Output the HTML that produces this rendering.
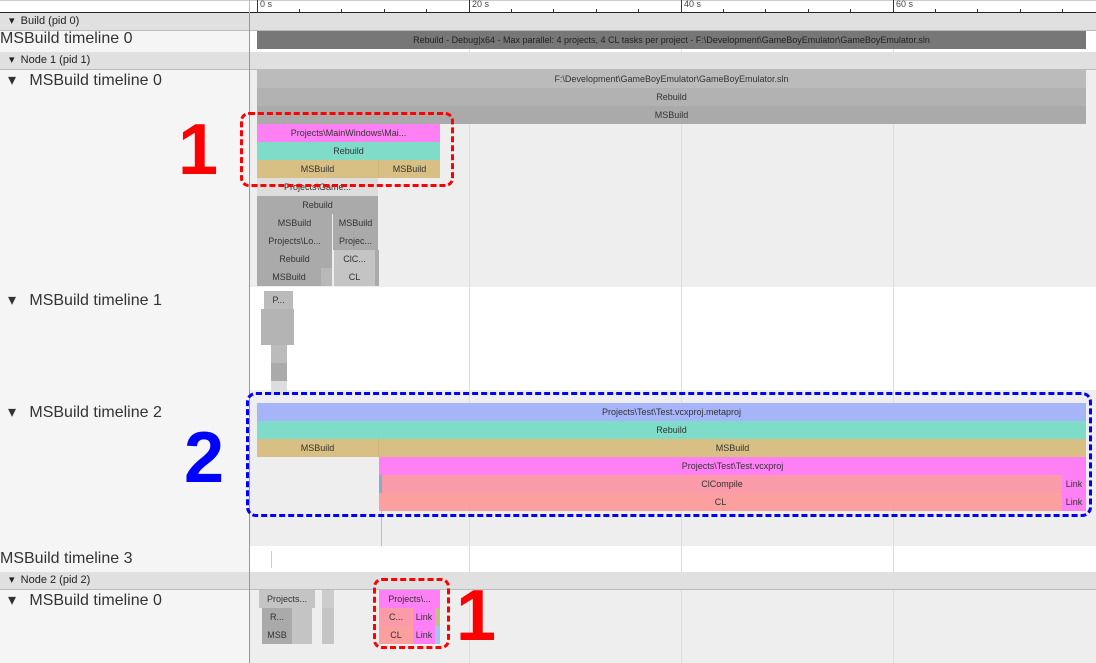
<!DOCTYPE html>
<html><head><meta charset="utf-8"><style>
body{margin:0;width:1096px;height:663px;overflow:hidden;background:#fff;font-family:"Liberation Sans",Arial,sans-serif;position:relative}
div{position:absolute;box-sizing:border-box}
.b{height:18px;line-height:18px;font-size:9px;text-align:center;color:#333;overflow:hidden;white-space:nowrap}
.hd{left:0;width:1096px;height:18px;background:#e0e0e0;border-bottom:1px solid #bbb;font-size:11px;line-height:17px;color:#222}
.lbl{font-size:16px;color:#333;white-space:nowrap}
.tk{top:9px;width:1px;height:4px;background:#333}
.num{font-size:72px;line-height:80px;font-weight:bold}
</style></head><body>
<div style="left:0;top:0;width:1096px;height:13px;background:#fff;border-bottom:1px solid #222;border-top:1px solid #ccc"></div>
<div style="left:0;top:0;width:250px;height:13px;border-right:1px solid #bbb"></div>
<div style="left:257px;top:0;width:1px;height:13px;background:#333"></div><div style="left:260px;top:-1px;font-size:9px;color:#444">0 s</div>
<div style="left:469px;top:0;width:1px;height:13px;background:#333"></div><div style="left:472px;top:-1px;font-size:9px;color:#444">20 s</div>
<div style="left:681px;top:0;width:1px;height:13px;background:#333"></div><div style="left:684px;top:-1px;font-size:9px;color:#444">40 s</div>
<div style="left:893px;top:0;width:1px;height:13px;background:#333"></div><div style="left:896px;top:-1px;font-size:9px;color:#444">60 s</div>
<div class="tk" style="left:299px"></div><div class="tk" style="left:341px"></div><div class="tk" style="left:384px"></div><div class="tk" style="left:426px"></div>
<div class="tk" style="left:511px"></div><div class="tk" style="left:553px"></div><div class="tk" style="left:596px"></div><div class="tk" style="left:638px"></div>
<div class="tk" style="left:723px"></div><div class="tk" style="left:765px"></div><div class="tk" style="left:808px"></div><div class="tk" style="left:850px"></div>
<div class="tk" style="left:935px"></div><div class="tk" style="left:977px"></div><div class="tk" style="left:1020px"></div><div class="tk" style="left:1062px"></div>

<div style="left:0;top:14px;width:250px;height:649px;background:#f5f5f5;border-right:1px solid #999"></div>

<div style="left:250px;top:70px;width:846px;height:217px;background:#eee"></div>
<div style="left:250px;top:390px;width:846px;height:156px;background:#eee"></div>
<div style="left:250px;top:590px;width:846px;height:73px;background:#eee"></div>
<div style="left:469px;top:14px;width:1px;height:649px;background:#ddd"></div>
<div style="left:681px;top:14px;width:1px;height:649px;background:#ddd"></div>
<div style="left:893px;top:14px;width:1px;height:649px;background:#ddd"></div>

<div class="hd" style="top:13px;padding-left:9px">▾ &nbsp;Build (pid 0)</div>
<div class="hd" style="top:52px;padding-left:9px">▾ &nbsp;Node 1 (pid 1)</div>
<div class="hd" style="top:572px;padding-left:9px">▾ &nbsp;Node 2 (pid 2)</div>
<div style="left:249px;top:13px;width:1px;height:650px;background:#999"></div>

<div class="lbl" style="left:0;top:30px">MSBuild timeline 0</div>
<div class="lbl" style="left:8px;top:70px">▾ &nbsp; MSBuild timeline 0</div>
<div class="lbl" style="left:8px;top:290px">▾ &nbsp; MSBuild timeline 1</div>
<div class="lbl" style="left:8px;top:402px">▾ &nbsp; MSBuild timeline 2</div>
<div class="lbl" style="left:0;top:550px">MSBuild timeline 3</div>
<div class="lbl" style="left:8px;top:590px">▾ &nbsp; MSBuild timeline 0</div>

<div class="b" style="left:257px;top:31px;width:829px;background:#777;color:#222">Rebuild - Debug|x64 - Max parallel: 4 projects, 4 CL tasks per project - F:\Development\GameBoyEmulator\GameBoyEmulator.sln</div>

<div class="b" style="left:257px;top:70px;width:829px;background:#bbb">F:\Development\GameBoyEmulator\GameBoyEmulator.sln</div>
<div class="b" style="left:257px;top:88px;width:829px;background:#b2b2b2">Rebuild</div>
<div class="b" style="left:257px;top:106px;width:829px;background:#aaa">MSBuild</div>
<div class="b" style="left:257px;top:124px;width:183px;background:#ff80f5">Projects\MainWindows\Mai...</div>
<div class="b" style="left:257px;top:142px;width:183px;background:#7fdcc8">Rebuild</div>
<div class="b" style="left:257px;top:160px;width:121px;background:#d8c084">MSBuild</div>
<div class="b" style="left:378px;top:160px;width:62px;background:#d8c084;border-left:1px solid #ccb47a">MSBuild</div>
<div class="b" style="left:257px;top:178px;width:121px;background:#ddd">Projects\Game...</div>
<div class="b" style="left:257px;top:196px;width:121px;background:#aaa">Rebuild</div>
<div class="b" style="left:257px;top:214px;width:75px;background:#aaa">MSBuild</div>
<div class="b" style="left:333px;top:214px;width:45px;background:#aaa">MSBuild</div>
<div class="b" style="left:257px;top:232px;width:75px;background:#aaa">Projects\Lo...</div>
<div class="b" style="left:333px;top:232px;width:45px;background:#aaa">Projec...</div>
<div class="b" style="left:257px;top:250px;width:75px;background:#aaa">Rebuild</div>
<div class="b" style="left:334px;top:250px;width:41px;background:#c4c4c4">ClC...</div>
<div class="b" style="left:375px;top:250px;width:4px;background:#aaa"></div>
<div class="b" style="left:257px;top:268px;width:64px;background:#aaa">MSBuild</div>
<div class="b" style="left:321px;top:268px;width:11px;background:#b8b8b8"></div>
<div class="b" style="left:334px;top:268px;width:41px;background:#c4c4c4">CL</div>
<div class="b" style="left:375px;top:268px;width:4px;background:#aaa"></div>

<div class="b" style="left:264px;top:291px;width:29px;background:#bbb">P...</div>
<div style="left:261px;top:309px;width:33px;height:36px;background:#b4b4b4"></div>
<div style="left:271px;top:345px;width:16px;height:18px;background:#bbb"></div>
<div style="left:271px;top:363px;width:16px;height:18px;background:#aaa"></div>
<div style="left:271px;top:381px;width:16px;height:14px;background:#ddd"></div>

<div class="b" style="left:257px;top:403px;width:829px;background:#a6b4f8">Projects\Test\Test.vcxproj.metaproj</div>
<div class="b" style="left:257px;top:421px;width:829px;background:#7fdcc8">Rebuild</div>
<div class="b" style="left:257px;top:439px;width:121px;background:#d8c084">MSBuild</div>
<div class="b" style="left:378px;top:439px;width:708px;background:#d8c084;border-left:1px solid #ccb47a">MSBuild</div>
<div class="b" style="left:379px;top:457px;width:707px;background:#ff80f5">Projects\Test\Test.vcxproj</div>
<div class="b" style="left:379px;top:475px;width:3px;background:#8ac"></div>
<div class="b" style="left:382px;top:475px;width:680px;background:#fb9aa8">ClCompile</div>
<div class="b" style="left:1062px;top:475px;width:24px;background:#ff80f5">Link</div>
<div class="b" style="left:379px;top:493px;width:683px;background:#fba09e">CL</div>
<div class="b" style="left:1062px;top:493px;width:24px;background:#ff80f5">Link</div>
<div style="left:381px;top:511px;width:1px;height:35px;background:#9cc"></div>

<div style="left:271px;top:551px;width:1px;height:17px;background:#ccc"></div>

<div class="b" style="left:259px;top:590px;width:56px;background:#c4c4c4">Projects...</div>
<div class="b" style="left:322px;top:590px;width:12px;background:#ccc"></div>
<div class="b" style="left:262px;top:608px;width:30px;background:#aaa">R...</div>
<div class="b" style="left:292px;top:608px;width:20px;background:#c4c4c4"></div>
<div class="b" style="left:322px;top:608px;width:12px;background:#c4c4c4"></div>
<div class="b" style="left:262px;top:626px;width:30px;background:#aaa">MSB</div>
<div class="b" style="left:292px;top:626px;width:20px;background:#c4c4c4"></div>
<div class="b" style="left:322px;top:626px;width:12px;background:#c4c4c4"></div>
<div class="b" style="left:379px;top:590px;width:61px;background:#ff80f5">Projects\...</div>
<div class="b" style="left:379px;top:608px;width:34px;background:#fb9aa8">C...</div>
<div class="b" style="left:413px;top:608px;width:22px;background:#ff80f5">Link</div>
<div class="b" style="left:435px;top:608px;width:5px;background:#c0c088"></div>
<div class="b" style="left:379px;top:626px;width:34px;background:#fba09e">CL</div>
<div class="b" style="left:413px;top:626px;width:22px;background:#ff80f5">Link</div>
<div class="b" style="left:435px;top:626px;width:5px;background:#9cc8f8"></div>

<div style="left:240px;top:112px;width:214px;height:75px;border:3px dashed #f00;border-radius:9px"></div>
<div class="num" style="left:178px;top:110px;color:#f00">1</div>
<div style="left:246px;top:392px;width:846px;height:125px;border:3px dashed #00f;border-radius:10px"></div>
<div class="num" style="left:184px;top:418px;color:#00f">2</div>
<div style="left:373px;top:578px;width:77px;height:71px;border:3px dashed #f00;border-radius:9px"></div>
<div class="num" style="left:456px;top:576px;color:#f00">1</div>
</body></html>
